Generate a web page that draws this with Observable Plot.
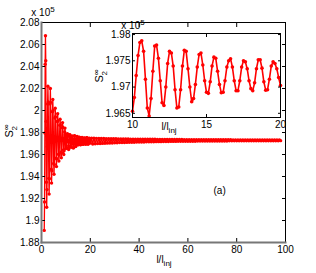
<!DOCTYPE html>
<html><head><meta charset="utf-8">
<script src="https://cdn.jsdelivr.net/npm/d3@7"></script>
<script src="https://cdn.jsdelivr.net/npm/@observablehq/plot@0.6"></script>
<style>
body{margin:0;background:#fff;}
#wrap{position:relative;width:316px;height:273px;font-family:"Liberation Sans",Arial,sans-serif;}
#wrap svg{position:absolute;overflow:visible;}
</style></head><body><div id="wrap"></div>
<script>
// ---- data (S values in units of 1e5) ----
const earlyStart = 1.125, earlyStep = 0.125;
const earlyS = [
 1.8910,1.9168,1.9795,2.0421,2.0680,2.0452,1.9900,1.9348,
 1.9120,1.9281,1.9670,2.0059,2.0220,2.0077,1.9730,1.9383,
 1.9240,1.9380,1.9720,2.0060,2.0200,2.0074,1.9770,1.9466,
 1.9340,1.9451,1.9720,1.9989,2.0100,2.0001,1.9760,1.9519,
 1.9420,1.9508,1.9720,1.9932,2.0020,1.9943,1.9755,1.9567,
 1.9490,1.9560,1.9730,1.9900,1.9970,1.9907,1.9755,1.9603,
 1.9540,1.9595,1.9730,1.9865,1.9920,1.9869,1.9745,1.9621,
 1.9570,1.9617,1.9730,1.9843,1.9890,1.9848,1.9745,1.9642,
 1.9600,1.9635,1.9720,1.9805,1.9840,1.9780,1.9700];

const insetStart = 10, insetStep = 0.125;
const insetS = [
 1.9654,1.9680,1.9722,1.9760,1.9785,1.9788,1.9768,1.9715,
 1.9660,1.9645,1.9678,1.9730,1.9778,1.9780,1.9755,1.9712,
 1.9670,1.9665,1.9700,1.9745,1.9768,1.9765,1.9740,1.9695,
 1.9660,1.9662,1.9695,1.9740,1.9770,1.9768,1.9735,1.9700,
 1.9672,1.9678,1.9705,1.9738,1.9762,1.9765,1.9742,1.9712,
 1.9690,1.9688,1.9710,1.9740,1.9757,1.9755,1.9730,1.9705,
 1.9689,1.9690,1.9712,1.9738,1.9750,1.9754,1.9738,1.9712,
 1.9693,1.9693,1.9712,1.9738,1.9750,1.9748,1.9735,1.9712,
 1.9697,1.9693,1.9708,1.9735,1.9752,1.9752,1.9736,1.9710,
 1.9694,1.9695,1.9715,1.9740,1.9748,1.9745,1.9735,1.9718,
 1.9703];

const tailStart = 20.5, tailStep = 0.5;
const tailS = [
 1.9749,1.9696,1.9748,1.9698,1.9747,1.9699,1.9746,1.9700,1.9745,1.9701,
 1.9745,1.9702,1.9744,1.9703,1.9744,1.9705,1.9743,1.9705,1.9743,1.9706,
 1.9743,1.9707,1.9742,1.9708,1.9742,1.9709,1.9741,1.9709,1.9741,1.9710,
 1.9741,1.9711,1.9740,1.9711,1.9740,1.9712,1.9740,1.9713,1.9739,1.9713,
 1.9739,1.9714,1.9739,1.9714,1.9739,1.9715,1.9738,1.9715,1.9738,1.9716,
 1.9738,1.9716,1.9738,1.9717,1.9737,1.9717,1.9737,1.9717,1.9737,1.9718,
 1.9737,1.9718,1.9737,1.9718,1.9736,1.9719,1.9736,1.9719,1.9736,1.9719,
 1.9736,1.9720,1.9736,1.9720,1.9736,1.9720,1.9735,1.9720,1.9735,1.9721,
 1.9735,1.9721,1.9735,1.9721,1.9735,1.9721,1.9735,1.9722,1.9735,1.9722,
 1.9735,1.9722,1.9734,1.9722,1.9734,1.9722,1.9734,1.9722,1.9734,1.9723,
 1.9734,1.9723,1.9734,1.9723,1.9734,1.9723,1.9734,1.9723,1.9734,1.9723,
 1.9734,1.9723,1.9734,1.9724,1.9734,1.9724,1.9733,1.9724,1.9733,1.9724,
 1.9733,1.9724,1.9733,1.9724,1.9733,1.9724,1.9733,1.9724,1.9733,1.9725,
 1.9733,1.9725,1.9733,1.9725,1.9733,1.9725,1.9733,1.9725,1.9733,1.9725,
 1.9733,1.9725,1.9733,1.9725,1.9733,1.9725,1.9733,1.9725,1.9733,1.9725,
 1.9733,1.9725,1.9733,1.9725,1.9733,1.9726];

const mainXTicks = [0,20,40,60,80,100];
const mainYTicks = [1.88,1.9,1.92,1.94,1.96,1.98,2,2.02,2.04,2.06,2.08];
const insetXTicks = [10,15,20];
const insetYTicks = [1.965,1.97,1.975,1.98];

// ---- build tables ----
const insetData = insetS.map((s,i)=>({l: insetStart + i*insetStep, s}));
const mainData = [
  ...earlyS.map((s,i)=>({l: earlyStart + i*earlyStep, s})),
  ...insetData,
  ...tailS.map((s,i)=>({l: tailStart + i*tailStep, s}))
];

const font = `"Liberation Sans", Arial, Helvetica, sans-serif`;
const fmt = d => String(+d.toFixed(3));
const blank = () => "";

const main = Plot.plot({
  width:316, height:273, marginLeft:41, marginRight:31, marginTop:22, marginBottom:31,
  style:{fontFamily:font, fontSize:"10px", background:"transparent", color:"black"},
  x:{domain:[0,100]}, y:{domain:[1.88,2.08]},
  marks:[
    Plot.line(mainData,{x:"l",y:"s",stroke:"#ff0000",strokeWidth:1.3}),
    Plot.dot(mainData,{x:"l",y:"s",fill:"#ff0000",r:1.7}),
    Plot.text(["(a)"],{x:[73],y:[1.927],text:d=>d,fontSize:10,fill:"black"}),
    Plot.axisX({ticks:mainXTicks,anchor:"bottom",tickSize:-4,tickPadding:7,tickFormat:fmt,label:null}),
    Plot.axisX({ticks:mainXTicks,anchor:"top",tickSize:-4,tickFormat:blank,label:null}),
    Plot.axisY({ticks:mainYTicks,anchor:"left",tickSize:-4,tickPadding:6,tickFormat:fmt,label:null}),
    Plot.axisY({ticks:mainYTicks,anchor:"right",tickSize:-4,tickFormat:blank,label:null}),
    Plot.frame({stroke:"black",strokeWidth:1}),
    Plot.frame({anchor:"left",stroke:"#777",strokeWidth:2}),
    Plot.frame({anchor:"bottom",stroke:"#777",strokeWidth:2})
  ]
});

const inset = Plot.plot({
  width:193, height:114, marginLeft:40, marginRight:5, marginTop:10, marginBottom:20,
  style:{fontFamily:font, fontSize:"10px", background:"transparent", color:"black"},
  x:{domain:[10,20]}, y:{domain:[1.9642,1.9802]},
  marks:[
    Plot.frame({fill:"white"}),
    Plot.line(insetData,{x:"l",y:"s",stroke:"#ff0000",strokeWidth:1.6}),
    Plot.dot(insetData,{x:"l",y:"s",fill:"#ff0000",r:1.8}),
    Plot.axisX({ticks:insetXTicks,anchor:"bottom",tickSize:-3,tickPadding:6,tickFormat:fmt,label:null}),
    Plot.axisX({ticks:insetXTicks,anchor:"top",tickSize:-3,tickFormat:blank,label:null}),
    Plot.axisY({ticks:insetYTicks,anchor:"left",tickSize:-3,tickPadding:5,tickFormat:fmt,label:null}),
    Plot.axisY({ticks:insetYTicks,anchor:"right",tickSize:-3,tickFormat:blank,label:null}),
    Plot.frame({stroke:"black",strokeWidth:1})
  ]
});

const wrap = document.getElementById("wrap");
main.style.left = "0px"; main.style.top = "0px";
inset.style.left = "92px"; inset.style.top = "23px";
wrap.appendChild(main);
wrap.appendChild(inset);

// ---- labels with sub/superscripts ----
const svg = d3.select(main);
function ylab(x, y){
  const t = svg.append("text").attr("transform",`translate(${x},${y}) rotate(-90)`)
    .attr("text-anchor","middle").style("font-size","11px").style("font-family",font);
  t.append("tspan").text("S");
  t.append("tspan").attr("dy",-4).style("font-size","8px").text("∞");
  t.append("tspan").attr("dx",-6).attr("dy",8).style("font-size","8px").text("2");
}
function xlab(x, y){
  const t = svg.append("text").attr("x",x).attr("y",y).attr("text-anchor","middle")
    .style("font-size","10px").style("font-family",font);
  t.append("tspan").text("l/l");
  t.append("tspan").attr("dy",3).style("font-size","8px").text("inj");
}
function exp(x, y){
  const t = svg.append("text").attr("x",x).attr("y",y).style("font-size","10px").style("font-family",font);
  t.append("tspan").text("x 10");
  t.append("tspan").attr("dy",-4).style("font-size","8px").text("5");
}
ylab(13,131);
xlab(164,263);
exp(43,16);
ylab(103,76);
xlab(169,130);
exp(133,29);
</script></body></html>
